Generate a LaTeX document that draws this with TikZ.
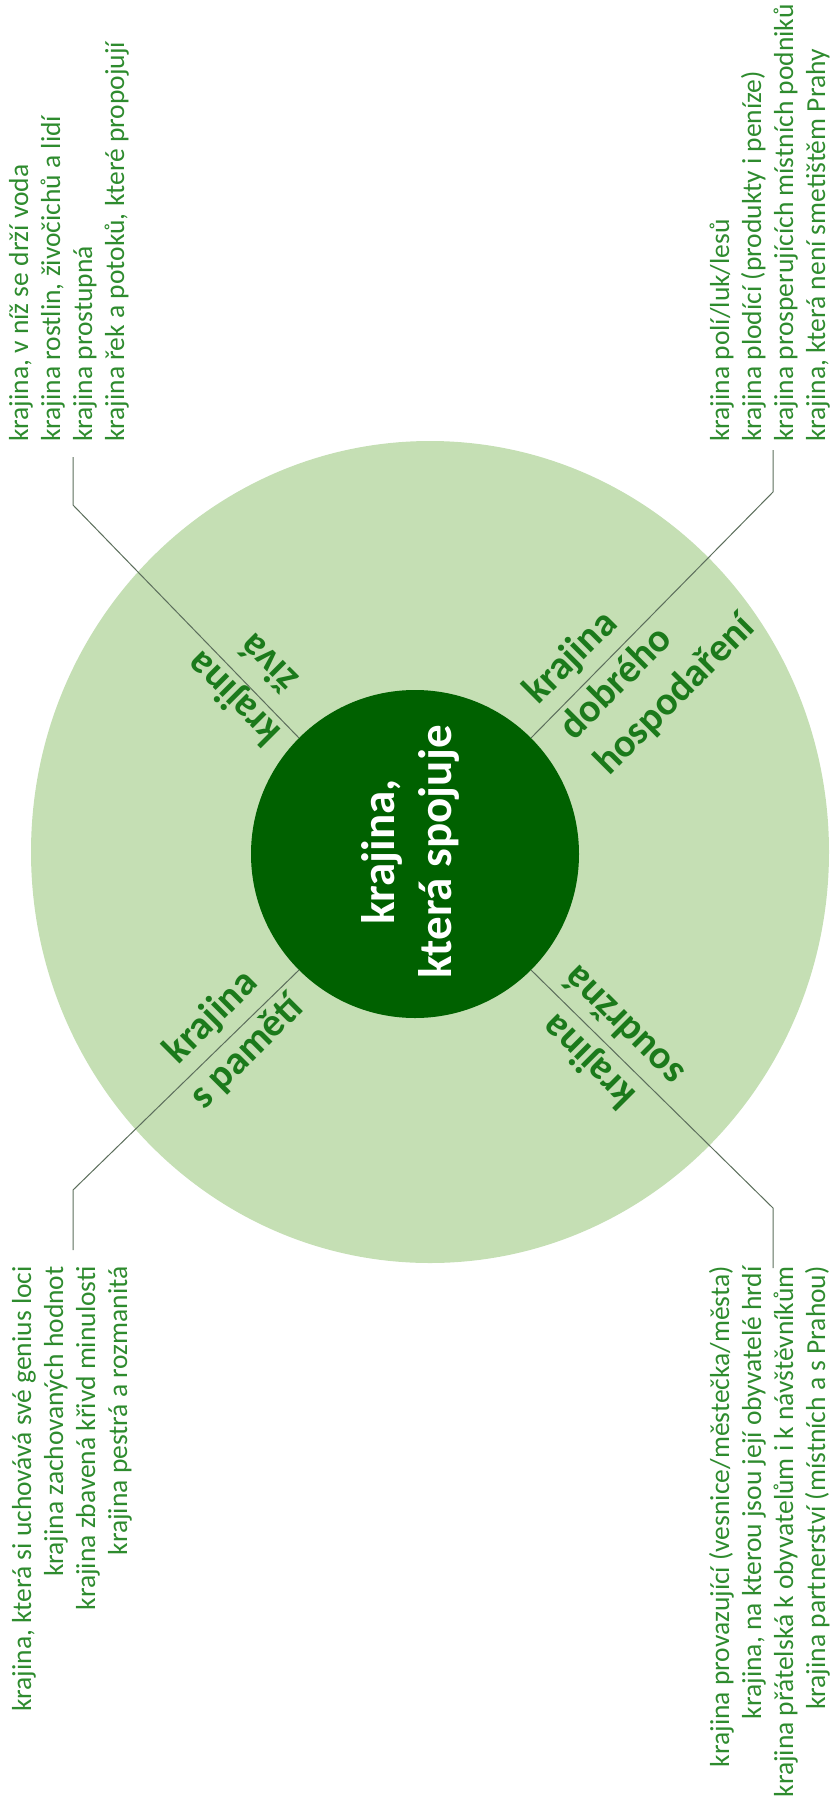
\documentclass[tikz,border=0pt]{standalone}
\usepackage{fontspec}
\setmainfont{Carlito}
\definecolor{pale}{HTML}{C5DFB4}
\definecolor{hubgreen}{HTML}{006100}
\definecolor{labelgreen}{HTML}{1B7A1B}
\definecolor{notegreen}{HTML}{2E8B2E}
\definecolor{leader}{HTML}{5C6E5C}
\begin{document}
\begin{tikzpicture}[x=1pt,y=-1pt,
  note/.style={text=notegreen, font=\fontsize{27.5}{32}\selectfont, inner sep=0pt, rotate=90},
  quad/.style={text=labelgreen, font=\bfseries\fontsize{40}{50}\selectfont, inner sep=0pt},
  leaderline/.style={draw=leader, line width=1pt}]
\useasboundingbox (0,0) rectangle (833,1798);

% outer field and hub
\fill[pale] (430,852) ellipse [x radius=399pt, y radius=411pt];
\node[circle, fill=hubgreen, minimum size=328pt, inner sep=0pt] (hub) at (415,854) {};
\node[rotate=90, text=white, font=\bfseries\fontsize{47}{57}\selectfont, align=center, inner sep=0pt] (hubtext) at (410,852) {krajina,\\která spojuje};

% leader lines from the hub to the note blocks
\coordinate (ulend) at (73,457);
\coordinate (urend) at (773,450);
\coordinate (llend) at (73,1250);
\coordinate (lrend) at (773,1268);
\draw[leaderline] (ulend) -- ++(0,48) -- (hub.135);
\draw[leaderline] (urend) -- ++(0,42) -- (hub.45);
\draw[leaderline] (llend) -- ++(0,-60) -- (hub.225);
\draw[leaderline] (lrend) -- ++(0,-60) -- (hub.-45);

% quadrant labels
\node[quad, rotate=135, align=center] (qlive) at (250,682) {krajina\\živá};
\node[quad, rotate=45, align=left] (qecon) at (640,660) {krajina\\dobrého\\hospodaření};
\node[quad, rotate=45, align=center] (qmem) at (229,1035) {krajina\\s pamětí};
\node[quad, rotate=135, align=center] (qcoh) at (605,1045) {krajina\\soudržná};

% note blocks
\foreach \t [count=\i] in {{krajina, v níž se drží voda},{krajina rostlin, živočichů a lidí},{krajina prostupná},{krajina řek a potoků, které propojují}}{
  \pgfmathsetmacro\xb{28+32*(\i-1)}
  \node[note, anchor=base west] (ul\i) at (\xb,442) {\t};
}
\foreach \t [count=\i] in {{krajina polí/luk/lesů},{krajina plodící (produkty i peníze)},{krajina prosperujících místních podniků},{krajina, která není smetištěm Prahy}}{
  \pgfmathsetmacro\xb{729+32*(\i-1)}
  \node[note, anchor=base west] (ur\i) at (\xb,442) {\t};
}
\foreach \t [count=\i] in {{krajina, která si uchovává své genius loci},{krajina zachovaných hodnot},{krajina zbavená křivd minulosti},{krajina pestrá a rozmanitá}}{
  \pgfmathsetmacro\xb{31+32*(\i-1)}
  \node[note, anchor=base east] (ll\i) at (\xb,1266) {\t};
}
\foreach \t [count=\i] in {{krajina provazující (vesnice/městečka/města)},{krajina, na kterou jsou její obyvatelé hrdí},{krajina přátelská k obyvatelům i k návštěvníkům},{krajina partnerství (místních a s Prahou)}}{
  \pgfmathsetmacro\xb{729+32*(\i-1)}
  \node[note, anchor=base east] (lr\i) at (\xb,1266) {\t};
}
\end{tikzpicture}
\end{document}
